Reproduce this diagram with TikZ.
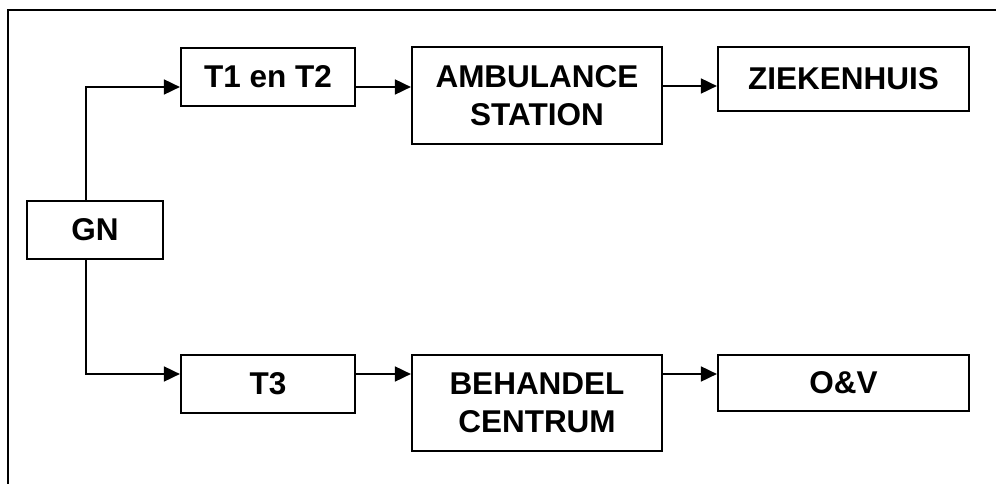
\documentclass[tikz,border=0pt]{standalone}
\usepackage{fontspec}
\setmainfont{Liberation Sans}
\usepackage{tikz}
\usetikzlibrary{arrows.meta,positioning,calc}
\tikzset{
  flowbox/.style={rectangle,draw=black,line width=2.2pt,inner sep=0pt,
    align=center,font=\fontsize{31.5}{38}\selectfont\bfseries},
  flowarrow/.style={-{Triangle[length=16pt,width=15pt]},line width=1.8pt},
  framebox/.style={draw=black,line width=2.4pt}
}
\begin{document}
\begin{tikzpicture}[x=1pt,y=-1pt]
  \clip (0,0) rectangle (996,484);
  % Outer frame (right and bottom edges fall outside the page)
  \draw[framebox] (8,10) rectangle (1012,504);

  % Left node
  \node[flowbox,minimum width=136pt,minimum height=58pt] (gn) at (95,230) {GN};
  % Upper row
  \node[flowbox,minimum width=174pt,minimum height=58pt] (t12) at (268,77) {T1 en T2};
  \node[flowbox,minimum width=250pt,minimum height=97pt] (amb) at (537,95.5) {AMBULANCE\\STATION};
  \node[flowbox,minimum width=251pt,minimum height=64pt] (zkh) at (843.5,79) {ZIEKENHUIS};
  % Lower row
  \node[flowbox,minimum width=174pt,minimum height=58pt] (t3) at (268,384) {T3};
  \node[flowbox,minimum width=250pt,minimum height=96pt] (bhc) at (537,403) {BEHANDEL\\CENTRUM};
  \node[flowbox,minimum width=251pt,minimum height=56pt] (ov) at (843.5,383) {O\&V};

  % Helper coordinates for the branch and the two rows
  \coordinate (fork) at (86,0);
  \coordinate (toprow) at (0,87);
  \coordinate (botrow) at (0,374);

  % Branches from GN
  \draw[flowarrow] (fork |- gn.north) |- (t12.west |- toprow);
  \draw[flowarrow] (fork |- gn.south) |- (t3.west |- botrow);
  % Arrows upper row
  \draw[flowarrow] (t12.east |- toprow) -- (amb.west |- toprow);
  \draw[flowarrow] ($(amb.east |- toprow)+(0,-1)$) -- ($(zkh.west |- toprow)+(0,-1)$);
  % Arrows lower row
  \foreach \a/\b in {t3/bhc,bhc/ov}
    \draw[flowarrow] (\a.east |- botrow) -- (\b.west |- botrow);
\end{tikzpicture}
\end{document}
